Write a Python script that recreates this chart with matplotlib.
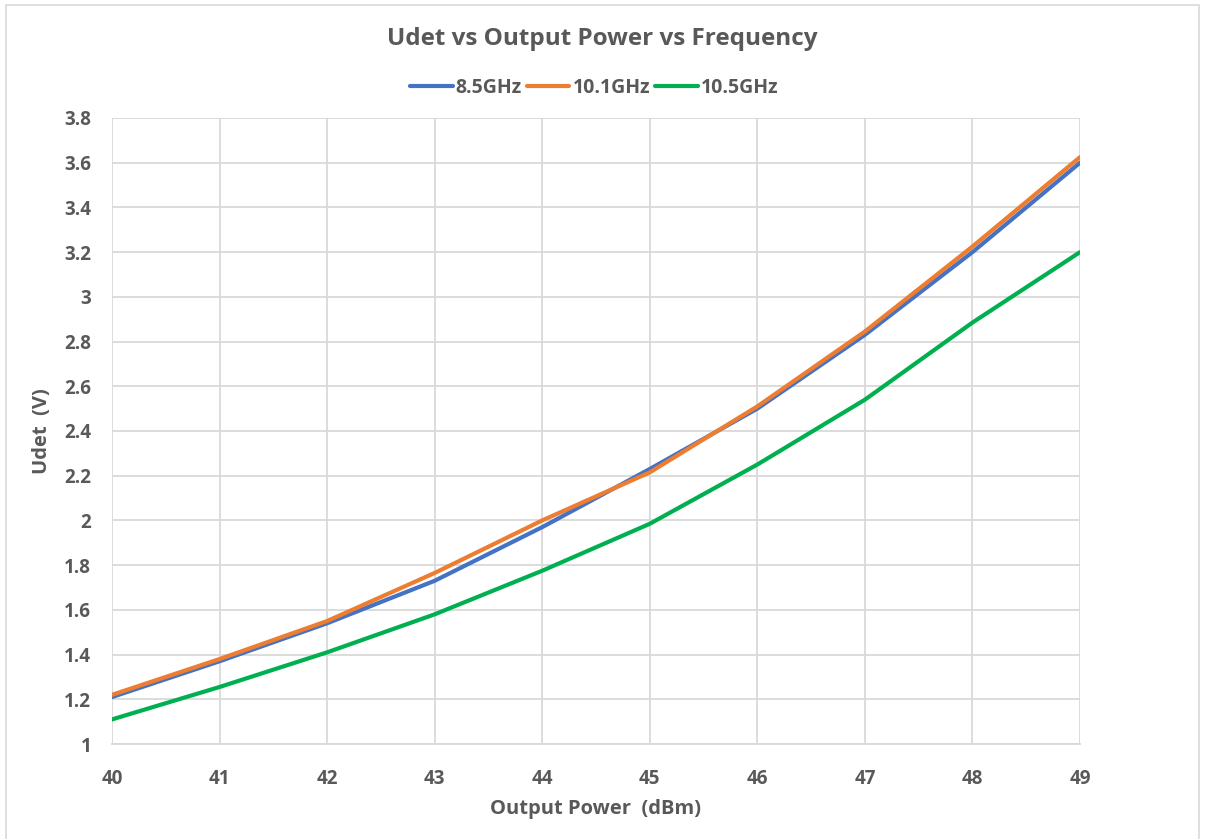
import matplotlib.pyplot as plt
from matplotlib.patches import Rectangle

plt.rcParams['font.family'] = ['Open Sans', 'DejaVu Sans']

# output power in dBm
power = [40, 41, 42, 43, 44, 45, 46, 47, 48, 49]

# detector voltage (V) per frequency
udet_85 = [1.21, 1.37, 1.54, 1.73, 1.97, 2.23, 2.50, 2.83, 3.20, 3.60]
udet_101 = [1.22, 1.38, 1.55, 1.765, 2.00, 2.215, 2.51, 2.845, 3.225, 3.625]
udet_105 = [1.11, 1.255, 1.41, 1.58, 1.775, 1.985, 2.25, 2.54, 2.885, 3.20]

labels = ['8.5GHz', '10.1GHz', '10.5GHz']
colors = ['#4472C4', '#ED7D31', '#00B050']
text_col = '#595959'

fig = plt.figure(figsize=(12.05, 8.39), dpi=100)
ax = fig.add_axes([0.0929, 0.1132, 0.8034, 0.7462])

for y, lab, c in zip([udet_85, udet_101, udet_105], labels, colors):
    ax.plot(power, y, color=c, lw=3.0, label=lab, solid_capstyle='round')

ax.set_xlim(40, 49)
ax.set_ylim(1, 3.8)
ax.set_xticks(power)
ax.set_yticks([1, 1.2, 1.4, 1.6, 1.8, 2, 2.2, 2.4, 2.6, 2.8, 3, 3.2, 3.4, 3.6, 3.8])
ax.set_yticklabels(['1', '1.2', '1.4', '1.6', '1.8', '2', '2.2', '2.4', '2.6',
                    '2.8', '3', '3.2', '3.4', '3.6', '3.8'])
ax.grid(True, color='#D9D9D9', lw=1.3)
ax.set_axisbelow(True)
for s in ['top', 'right', 'left']:
    ax.spines[s].set_visible(False)
ax.spines['bottom'].set_color('#D9D9D9')
ax.spines['bottom'].set_linewidth(1.3)
ax.tick_params(length=0, labelsize=13.5, colors=text_col)
ax.tick_params(axis='x', pad=18)
ax.tick_params(axis='y', pad=15)
for t in ax.get_xticklabels() + ax.get_yticklabels():
    t.set_fontweight('bold')

ax.set_xlabel('Output Power  (dBm)', fontsize=14.5, fontweight='bold', color=text_col, labelpad=7)
ax.set_ylabel('Udet  (V)', fontsize=14.5, fontweight='bold', color=text_col, labelpad=9)

fig.text(0.5, 0.953, 'Udet vs Output Power vs Frequency', ha='center', va='center',
         fontsize=17.5, fontweight='bold', color=text_col)
leg = fig.legend(loc='center', bbox_to_anchor=(0.493, 0.895), ncol=3, frameon=False,
                 fontsize=14, handlelength=2.2, handletextpad=0.15, columnspacing=0.25)
for t in leg.get_texts():
    t.set_color(text_col)
    t.set_fontweight('bold')

fig.patches.append(Rectangle((0.005, -0.01), 0.99, 1.004, transform=fig.transFigure,
                             fill=False, edgecolor='#D9D9D9', lw=1.2))

fig.savefig('out.png', dpi=100)
